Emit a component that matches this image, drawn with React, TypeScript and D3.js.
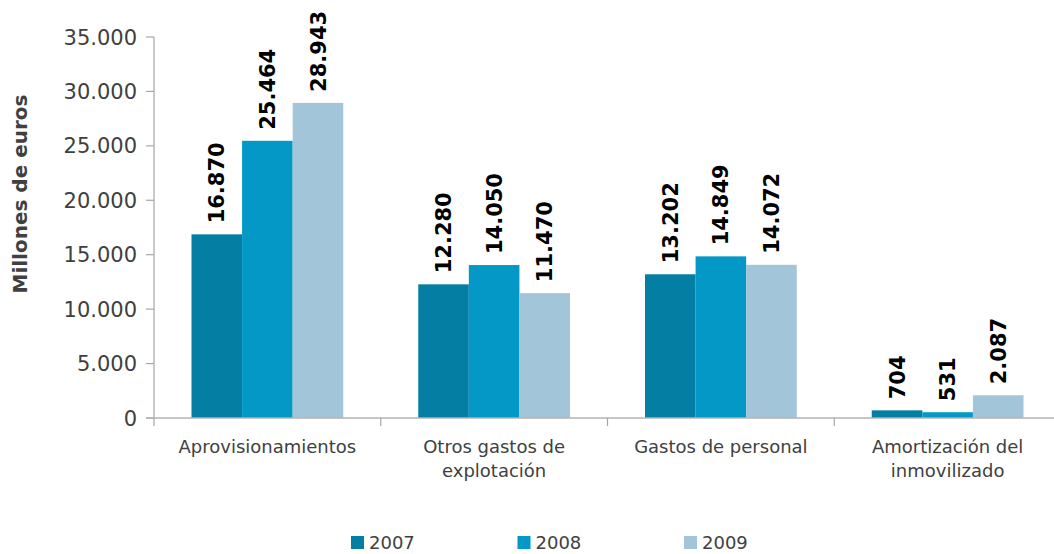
import React, { useEffect, useRef } from "react";
import * as d3 from "d3";

const categories = [
  ["Aprovisionamientos"],
  ["Otros gastos de", "explotación"],
  ["Gastos de personal"],
  ["Amortización del", "inmovilizado"],
];
const years = ["2007", "2008", "2009"];
const values2007 = [16870, 12280, 13202, 704];
const values2008 = [25464, 14050, 14849, 531];
const values2009 = [28943, 11470, 14072, 2087];
const yTicks = [0, 5000, 10000, 15000, 20000, 25000, 30000, 35000];
const colors = ["#047ea3", "#0398c5", "#a2c5da"];

const es = d3.formatLocale({
  decimal: ",",
  thousands: ".",
  grouping: [3],
  currency: ["", " €"],
});
const fmt = es.format(",d");

const App = () => {
  const ref = useRef<SVGSVGElement>(null);

  useEffect(() => {
    const width = 1054,
      height = 554;
    const left = 154,
      right = 1061,
      top = 37,
      bottom = 418;
    const series = [values2007, values2008, values2009];

    const svg = d3.select(ref.current).attr("width", width).attr("height", height);
    svg.selectAll("*").remove();

    const font = "DejaVu Sans, Verdana, sans-serif";

    const x = d3
      .scaleBand<number>()
      .domain(categories.map((_, i) => i))
      .range([left, right]);
    const bw = x.bandwidth();
    const xs = d3
      .scaleBand<number>()
      .domain(years.map((_, i) => i))
      .range([37.5, bw - 37.5]);

    const y = d3.scaleLinear().domain([0, 35000]).range([bottom, top]);

    // y axis
    const ya = svg.append("g");
    ya.append("line")
      .attr("x1", left)
      .attr("x2", left)
      .attr("y1", top)
      .attr("y2", bottom)
      .attr("stroke", "#a6a6a6")
      .attr("stroke-width", 1.2);
    ya.selectAll("line.tick")
      .data(yTicks)
      .enter()
      .append("line")
      .attr("class", "tick")
      .attr("x1", left - 8)
      .attr("x2", left)
      .attr("y1", (d) => y(d))
      .attr("y2", (d) => y(d))
      .attr("stroke", "#a6a6a6")
      .attr("stroke-width", 1.2);
    ya.selectAll("text")
      .data(yTicks)
      .enter()
      .append("text")
      .attr("x", left - 17)
      .attr("y", (d) => y(d))
      .attr("dy", "0.36em")
      .attr("text-anchor", "end")
      .style("font-family", font)
      .style("font-size", "21px")
      .style("fill", "#404040")
      .text((d) => fmt(d));

    // bars
    series.forEach((vals, s) => {
      const g = svg.append("g");
      g.selectAll("rect")
        .data(vals)
        .enter()
        .append("rect")
        .attr("x", (_, i) => (x(i) as number) + (xs(s) as number))
        .attr("width", xs.bandwidth())
        .attr("y", (d) => y(d))
        .attr("height", (d) => y(0) - y(d))
        .attr("fill", colors[s]);
      g.selectAll("text")
        .data(vals)
        .enter()
        .append("text")
        .attr("transform", (d, i) => {
          const cx = (x(i) as number) + (xs(s) as number) + xs.bandwidth() / 2;
          return `translate(${cx},${y(d) - 11}) rotate(-90)`;
        })
        .attr("dy", "0.36em")
        .attr("text-anchor", "start")
        .style("font-family", font)
        .style("font-size", "21px")
        .style("font-weight", "bold")
        .style("fill", "#000")
        .text((d) => fmt(d));
    });

    // x axis
    const xa = svg.append("g");
    xa.append("line")
      .attr("x1", left - 8)
      .attr("x2", right)
      .attr("y1", bottom)
      .attr("y2", bottom)
      .attr("stroke", "#b3b3b3")
      .attr("stroke-width", 1.6);
    xa.selectAll("line.tick")
      .data(categories.map((_, i) => i))
      .enter()
      .append("line")
      .attr("class", "tick")
      .attr("x1", (i) => x(i) as number)
      .attr("x2", (i) => x(i) as number)
      .attr("y1", bottom)
      .attr("y2", bottom + 8)
      .attr("stroke", "#a6a6a6")
      .attr("stroke-width", 1.2);
    categories.forEach((lines, i) => {
      const t = xa
        .append("text")
        .attr("x", (x(i) as number) + bw / 2)
        .attr("y", 453)
        .attr("text-anchor", "middle")
        .style("font-family", font)
        .style("font-size", "18px")
        .style("fill", "#404040");
      lines.forEach((l, k) => {
        t.append("tspan")
          .attr("x", (x(i) as number) + bw / 2)
          .attr("dy", k === 0 ? 0 : 24)
          .text(l);
      });
    });

    // y title
    svg
      .append("text")
      .attr("transform", `translate(27,194) rotate(-90)`)
      .attr("text-anchor", "middle")
      .style("font-family", font)
      .style("font-size", "20px")
      .style("font-weight", "bold")
      .style("fill", "#404040")
      .text("Millones de euros");

    // legend
    const lx = d3.scaleLinear().domain([0, 2]).range([351, 684]);
    const lg = svg.append("g");
    years.forEach((yr, i) => {
      lg.append("rect")
        .attr("x", lx(i))
        .attr("y", 536)
        .attr("width", 13)
        .attr("height", 13)
        .attr("fill", colors[i]);
      lg.append("text")
        .attr("x", lx(i) + 18)
        .attr("y", 549)
        .style("font-family", font)
        .style("font-size", "18px")
        .style("fill", "#404040")
        .text(yr);
    });
  }, []);

  return (
    <svg
      ref={ref}
      style={{ position: "absolute", left: 0, top: 0, background: "#fff" }}
    ></svg>
  );
};

export default App;
